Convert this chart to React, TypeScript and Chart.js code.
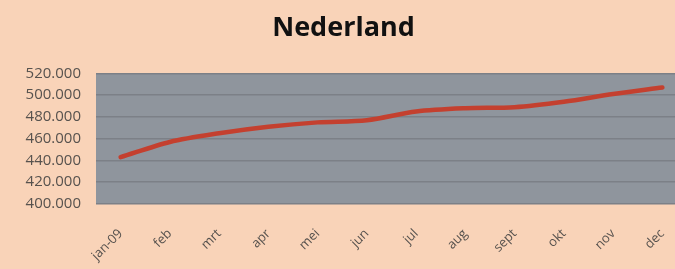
import React, { useEffect, useRef } from "react";
import { Chart, registerables } from "chart.js";

Chart.register(...registerables);

const title = "Nederland";
const months = ["jan-09", "feb", "mrt", "apr", "mei", "jun", "jul", "aug", "sept", "okt", "nov", "dec"];
const values = [443000, 457000, 465000, 471000, 475000, 477000, 485000, 488000, 489000, 494000, 501000, 507000];
const yMin = 400000;
const yMax = 520000;
const yStep = 20000;

const BG = "#F9D3B8";
const PLOT = "#8F959D";
const GRID = "#7C8087";
const LINE = "#C4402F";
const TEXT = "#57524E";

const bgPlugin = {
  id: "bgPlugin",
  beforeDraw(chart: any) {
    const { ctx, chartArea, width, height } = chart;
    ctx.save();
    ctx.fillStyle = BG;
    ctx.fillRect(0, 0, width, height);
    ctx.fillStyle = PLOT;
    ctx.fillRect(chartArea.left, chartArea.top, chartArea.right - chartArea.left, chartArea.bottom - chartArea.top);
    ctx.restore();
  },
};

export default function App() {
  const ref = useRef<HTMLCanvasElement>(null);
  useEffect(() => {
    document.documentElement.style.overflow = "hidden";
    document.body.style.overflow = "hidden";
    const chart = new Chart(ref.current!, {
      type: "line",
      data: {
        labels: months,
        datasets: [
          {
            data: values,
            borderColor: LINE,
            borderWidth: 4.5,
            pointRadius: 0,
            tension: 0.3,
            fill: false,
            borderCapStyle: "round",
          },
        ],
      },
      options: {
        animation: false,
        responsive: false,
        maintainAspectRatio: false,
        layout: { padding: { left: 0, right: 13, top: 0, bottom: 0 } },
        plugins: {
          legend: { display: false },
          tooltip: { enabled: false },
          title: {
            display: true,
            text: title,
            color: "#111",
            font: { family: "Open Sans", size: 27, weight: "bold" },
            padding: { top: 12, bottom: 29 },
          },
        },
        scales: {
          x: {
            offset: true,
            grid: { display: false, drawTicks: false },
            border: { display: false },
            afterFit: (s: any) => {
              s.height = 65;
            },
            ticks: {
              color: TEXT,
              font: { family: "Open Sans", size: 13 },
              minRotation: 45,
              maxRotation: 45,
              padding: 22,
              labelOffset: 0,
              autoSkip: false,
            },
          },
          y: {
            min: yMin,
            max: yMax,
            grid: { color: GRID, lineWidth: 1.5, drawTicks: false },
            border: { display: false },
            afterFit: (s: any) => {
              s.width = 96;
            },
            ticks: {
              stepSize: yStep,
              color: TEXT,
              padding: 15,
              font: { family: "Open Sans", size: 15 },
              callback: (v: any) => Number(v).toLocaleString("de-DE"),
            },
          },
        },
      },
      plugins: [bgPlugin],
    });
    return () => chart.destroy();
  }, []);
  return (
    <div style={{ position: "absolute", left: 0, top: 0, width: 700, height: 269 }}>
      <canvas ref={ref} width={700} height={269} style={{ display: "block" }} />
    </div>
  );
}
